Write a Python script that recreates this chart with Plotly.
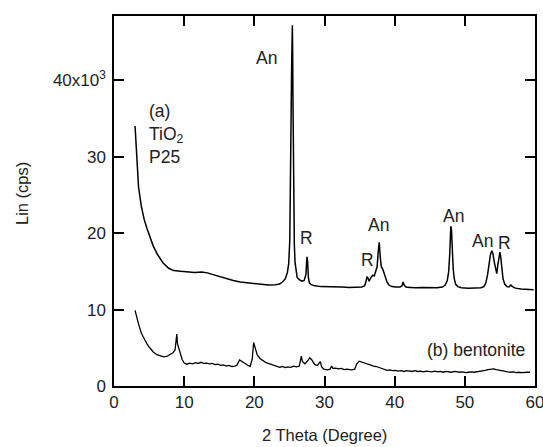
import plotly.graph_objects as go

# (a) TiO2 P25 pattern: 2-theta (deg) and intensity (x10^3 cps)
theta_a = [3.0, 3.2, 3.5, 3.9, 4.3, 4.7, 5.1, 5.6, 6.2, 7.0, 7.8, 8.5, 9.5, 10.5, 11.5, 12.5,
           13.3, 14.0, 15.0, 16.0, 17.0, 18.0, 19.0, 20.0, 21.0, 22.0, 23.0, 23.6, 24.0, 24.4,
           24.7, 24.9, 25.05, 25.15, 25.25, 25.32, 25.38, 25.42, 25.46, 25.5, 25.56, 25.62,
           25.7, 25.8, 25.95, 26.1, 26.4, 26.8, 27.1, 27.35, 27.5, 27.6, 27.7, 27.85, 28.1,
           28.6, 29.5, 30.5, 31.5, 32.5, 33.5, 34.5, 35.3, 35.7, 35.9, 36.05, 36.2, 36.35,
           36.5, 36.7, 36.9, 37.1, 37.3, 37.5, 37.65, 37.8, 37.95, 38.1, 38.3, 38.5, 38.7,
           38.9, 39.2, 39.6, 40.2, 40.8, 41.05, 41.2, 41.35, 41.6, 42.2, 43.0, 44.0, 45.0,
           46.0, 46.8, 47.2, 47.5, 47.7, 47.85, 48.0, 48.1, 48.2, 48.35, 48.5, 48.7, 49.0,
           49.5, 50.5, 51.5, 52.3, 52.7, 53.0, 53.25, 53.45, 53.65, 53.85, 54.0, 54.2, 54.4,
           54.55, 54.7, 54.85, 55.0, 55.1, 55.25, 55.45, 55.7, 56.0, 56.3, 56.55, 56.8, 57.2,
           58.0, 59.0, 59.8]
int_a = [34.0, 30.0, 26.0, 23.5, 21.8, 20.6, 19.5, 18.3, 17.2, 16.1, 15.4, 15.1, 15.0, 14.9,
         14.85, 14.9, 14.8, 14.6, 14.3, 14.0, 13.8, 13.6, 13.5, 13.35, 13.25, 13.2, 13.25,
         13.35, 13.6, 14.0, 14.8, 16.0, 19.0, 25.0, 36.0, 42.0, 45.5, 47.2, 44.0, 38.0, 29.0,
         22.0, 18.5, 16.2, 14.8, 14.2, 13.9, 13.7, 13.8, 14.6, 16.9, 16.2, 14.2, 13.5, 13.25,
         13.1, 13.0, 13.0, 12.95, 12.95, 12.9, 12.9, 12.95, 13.1, 13.6, 14.3, 14.1, 13.7,
         14.0, 14.3, 14.5, 14.4, 15.0, 15.6, 17.5, 18.8, 16.8, 15.6, 15.3, 14.8, 14.2, 13.6,
         13.2, 13.0, 12.95, 12.95, 13.1, 13.6, 13.2, 12.95, 12.9, 12.85, 12.9, 12.85, 12.85,
         12.95, 13.2, 13.8, 15.0, 17.3, 20.9, 20.4, 17.5, 15.2, 14.0, 13.3, 13.0, 12.85, 12.8,
         12.8, 12.85, 13.0, 13.5, 14.6, 16.0, 17.2, 17.7, 17.3, 16.2, 15.0, 14.7, 15.8, 17.0,
         17.5, 17.0, 15.2, 14.0, 13.3, 13.0, 12.95, 13.2, 13.0, 12.8, 12.7, 12.65, 12.6]

# (b) bentonite pattern
theta_b = [3.0, 3.2, 3.5, 3.9, 4.3, 4.7, 5.1, 5.6, 6.1, 6.6, 7.1, 7.6, 8.0, 8.4, 8.7, 8.85,
           8.95, 9.05, 9.2, 9.4, 9.7, 10.0, 10.4, 10.8, 11.2, 11.6, 12.0, 12.4, 12.8, 13.2,
           13.6, 14.0, 14.4, 14.8, 15.2, 15.6, 16.0, 16.4, 16.8, 17.2, 17.5, 17.9, 18.2, 18.6,
           19.0, 19.4, 19.7, 19.9, 20.1, 20.4, 20.8, 21.2, 21.6, 22.0, 22.4, 22.8, 23.2, 23.6,
           24.0, 24.4, 24.8, 25.2, 25.6, 26.0, 26.4, 26.7, 26.85, 27.2, 27.6, 27.9, 28.2, 28.6,
           29.0, 29.4, 29.6, 29.9, 30.4, 30.8, 31.0, 31.2, 31.6, 32.0, 32.4, 32.8, 33.2, 33.6,
           33.9, 34.3, 34.6, 34.95, 35.4, 35.8, 36.2, 36.6, 37.0, 37.4, 37.8, 38.2, 38.6, 38.9,
           39.3, 39.7, 40.1, 40.5, 40.9, 41.3, 41.7, 42.1, 42.5, 42.9, 43.3, 43.7, 44.1, 44.5,
           44.9, 45.3, 45.7, 46.1, 46.5, 46.9, 47.3, 47.7, 48.1, 48.5, 48.9, 49.3, 49.7, 50.1,
           50.5, 50.9, 51.3, 51.7, 52.1, 52.5, 52.9, 53.3, 53.7, 54.1, 54.5, 54.9, 55.3, 55.7,
           56.1, 56.5, 56.9, 57.3, 57.7, 58.1, 58.5, 58.9, 59.3, 59.7, 60.0]
int_b = [9.9, 9.0, 8.1, 6.9, 6.1, 5.5, 5.0, 4.45, 4.1, 3.9, 3.8, 3.9, 4.1, 4.35, 4.7, 5.6,
         6.8, 5.5, 5.0, 4.6, 3.5, 3.0, 2.85, 3.0, 2.9, 3.05, 2.95, 3.1, 2.95, 3.0, 2.9,
         2.95, 2.8, 2.85, 2.7, 2.75, 2.6, 2.7, 2.55, 2.6, 2.7, 3.4, 3.2, 3.0, 2.75, 2.55,
         3.5, 5.7, 5.0, 4.1, 3.6, 3.3, 3.1, 2.95, 2.8, 2.65, 2.6, 2.45, 2.55, 2.4, 2.5,
         2.45, 2.6, 2.5, 2.6, 3.9, 3.2, 2.9, 3.3, 3.7, 3.4, 2.8, 2.7, 3.2, 2.5, 2.2, 2.1,
         2.2, 2.6, 2.3, 2.35, 2.25, 2.3, 2.15, 2.2, 2.1, 2.1, 2.2, 2.9, 3.25, 3.1, 3.0,
         2.85, 2.75, 2.6, 2.55, 2.4, 2.35, 2.2, 2.05, 2.1, 2.0, 2.05, 1.95, 2.0, 1.9, 2.0,
         1.95, 1.9, 2.0, 1.9, 1.95, 1.85, 1.95, 1.9, 1.85, 1.95, 1.85, 1.9, 1.8, 1.9,
         1.85, 1.8, 1.9, 1.85, 1.8, 1.85, 1.75, 1.8, 1.85, 1.8, 1.85, 1.9, 2.0, 2.05, 2.15,
         2.2, 2.25, 2.15, 2.05, 1.95, 1.9, 1.85, 1.8, 1.85, 1.75, 1.8, 1.75, 1.8, 1.8, 1.8]

# peak labels
peak_text = ["An", "R", "R", "An", "An", "An", "R"]
peak_x = [21.7, 27.45, 36.15, 37.7, 48.35, 52.5, 55.6]
peak_y = [42.9, 19.3, 16.5, 21.0, 22.3, 19.0, 18.7]

y_tickvals = [0, 10, 20, 30, 40]
y_ticktext = ["0", "10", "20", "30", "40x10<sup>3</sup>"]
x_tickvals = [0, 10, 20, 30, 40, 50, 60]

FONT = "Liberation Sans, Arial, sans-serif"
TXT = "#222222"
W, H = 543, 447
ML, MR, MT, MB = 114, 8, 16, 61
PW, PH = W - ML - MR, H - MT - MB


def px_to_paper(px, py):
    return (px - ML) / PW, (H - MB - py) / PH


fig = go.Figure()
fig.add_trace(go.Scatter(x=theta_a, y=int_a, mode="lines",
                         line=dict(color="black", width=1.5), showlegend=False))
fig.add_trace(go.Scatter(x=theta_b, y=int_b, mode="lines",
                         line=dict(color="black", width=1.3), showlegend=False))

for t, x, y in zip(peak_text, peak_x, peak_y):
    fig.add_annotation(x=x, y=y, xref="x", yref="y", text=t, showarrow=False,
                       font=dict(size=17.5, color=TXT, family=FONT))

fig.add_annotation(x=4.7, y=33.0, xref="x", yref="y", xanchor="left",
                   text="(a)<br>TiO<sub>2</sub><br>P25", align="left", showarrow=False,
                   font=dict(size=17.5, color=TXT, family=FONT))
fig.add_annotation(x=58.8, y=4.65, xref="x", yref="y", xanchor="right",
                   text="(b) bentonite", showarrow=False,
                   font=dict(size=17.5, color=TXT, family=FONT))

# axis titles
xt, yt = px_to_paper(324, 435)
fig.add_annotation(x=xt, y=yt, xref="paper", yref="paper", text="2 Theta (Degree)",
                   showarrow=False, xanchor="center", yanchor="middle",
                   font=dict(size=16.5, color=TXT, family=FONT))
xt, yt = px_to_paper(22, 194)
fig.add_annotation(x=xt, y=yt, xref="paper", yref="paper", text="Lin (cps)",
                   showarrow=False, xanchor="center", yanchor="middle", textangle=-90,
                   font=dict(size=16.5, color=TXT, family=FONT))

axis_common = dict(showline=True, linecolor="black", linewidth=1.5, mirror="ticks",
                   ticks="inside", ticklen=10, tickwidth=1.5, tickcolor="black",
                   showgrid=False, zeroline=False, automargin=False,
                   ticklabeloverflow="allow",
                   tickfont=dict(size=17, color=TXT, family=FONT))

fig.update_layout(
    width=W, height=H,
    margin=dict(l=ML, r=MR, t=MT, b=MB, autoexpand=False),
    paper_bgcolor="white", plot_bgcolor="white",
    font=dict(family=FONT, color=TXT),
    xaxis=dict(range=[0, 60], tickvals=x_tickvals, **axis_common),
    yaxis=dict(range=[0, 48.4], tickvals=y_tickvals, ticktext=y_ticktext,
               ticklabelstandoff=3, **axis_common),
)

fig.write_html("out.html")
